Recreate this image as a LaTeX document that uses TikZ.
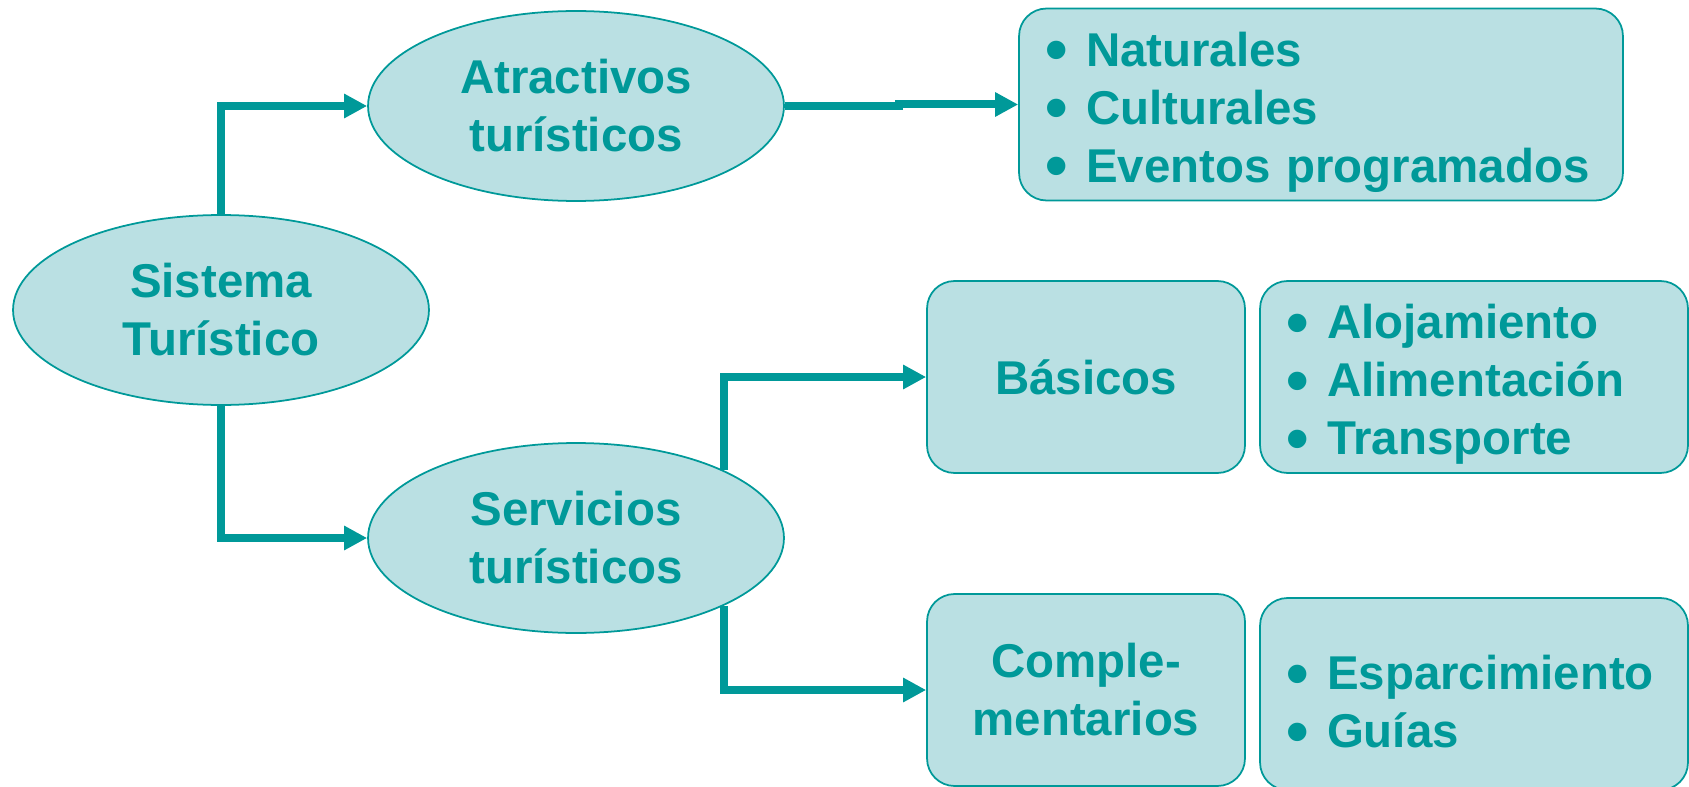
\documentclass[tikz,border=0pt]{standalone}
\usepackage{fontspec}
\usepackage{graphicx}
\setmainfont{Liberation Sans}
\usetikzlibrary{arrows.meta}
\usetikzlibrary{shapes.geometric}
\definecolor{turq}{HTML}{009999}
\definecolor{celeste}{HTML}{BAE0E3}
\newcommand{\itm}{\makebox[0.82cm][l]{\raisebox{-0.12em}[0pt][0pt]{\scalebox{1.35}{\textbullet}}}}

\begin{document}
\begin{tikzpicture}[x=0.02cm, y=-0.02cm,
 every node/.style={font=\fontsize{27}{33}\selectfont\bfseries, text=turq},
 ovalo/.style={ellipse, draw=turq, line width=1pt, fill=celeste, minimum width=8.32cm, minimum height=3.8cm, align=center},
 caja/.style={rectangle, rounded corners=0.55cm, draw=turq, line width=1pt, fill=celeste, minimum height=3.84cm},
 lista/.style={caja, align=left, inner xsep=0.52cm, text width=#1, execute at begin node={\rule{0pt}{28pt}}},
 flecha/.style={turq, line width=0.16cm, -{Triangle[length=0.46cm, width=0.46cm]}}]
\useasboundingbox (0,0) rectangle (1689,787);
\node[ovalo] (sis) at (221,310) {Sistema\\Turístico};
\node[ovalo] (atr) at (576,106) {Atractivos\\turísticos};
\node[ovalo] (serv) at (576,538) {Servicios\\turísticos};
\node[lista=11.04cm] (nat) at (1321,104.5) {\itm Naturales\\ \itm Culturales\\ \itm Eventos programados};
\node[caja, minimum width=6.36cm, align=center] (bas) at (1086,377) {Básicos};
\node[lista=7.52cm] (alo) at (1474,377) {\itm Alojamiento\\ \itm Alimentación\\ \itm Transporte};
\node[caja, minimum width=6.36cm, align=center] (comp) at (1086,690) {Comple-\\mentarios};
\node[lista=7.52cm, execute at begin node={\rule{0pt}{18pt}}] (esp) at (1474,694) {\itm Esparcimiento\\ \itm Guías};
\draw[flecha] (sis.north) |- (atr.west);
\draw[flecha] (sis.south) |- (serv.west);
\draw[flecha] (atr.east) -- ++(114,0) |- (nat.west);
\draw[flecha] (serv.north east) |- (bas.west);
\draw[flecha] (serv.south east) |- (comp.west);
\end{tikzpicture}
\end{document}
